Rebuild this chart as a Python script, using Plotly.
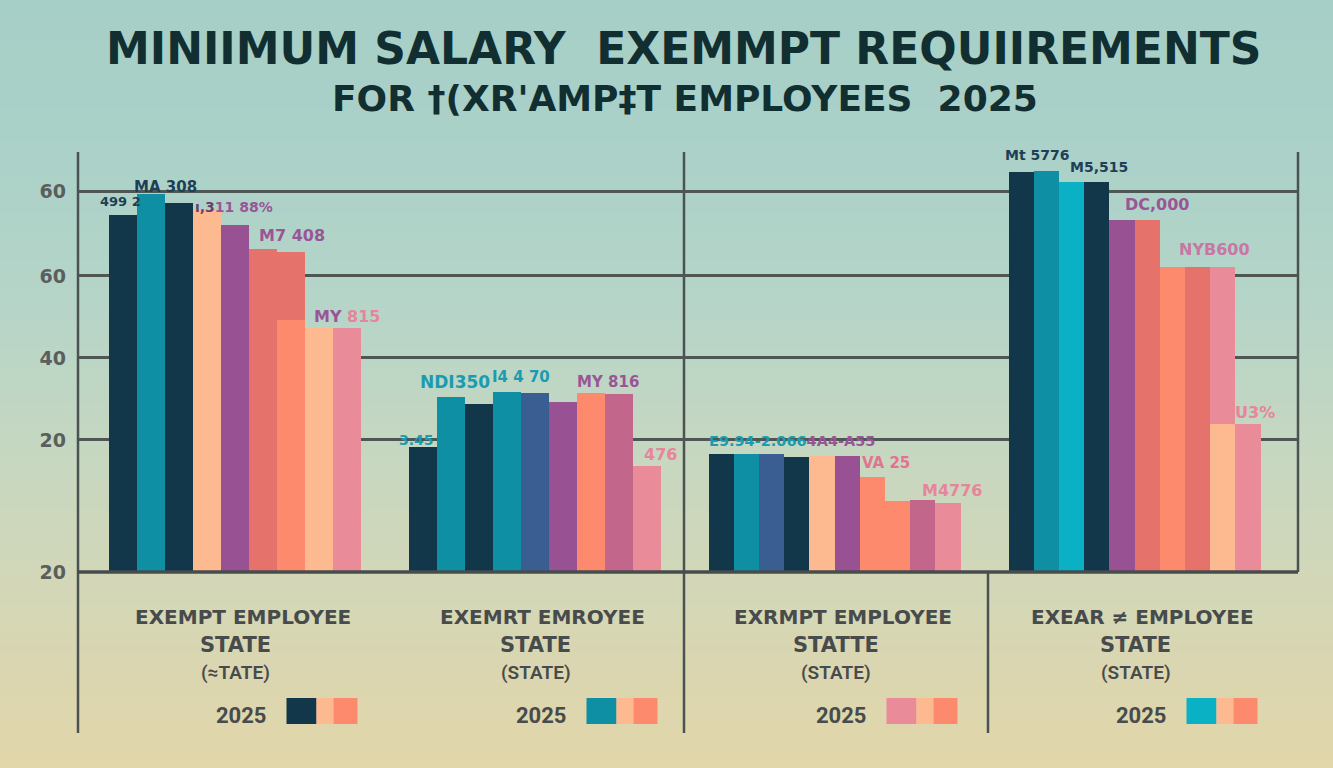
import base64
import struct
import zlib
import plotly.graph_objects as go

# ---------------- data ----------------
title_line1 = "MINIIMUM SALARY  EXEMMPT REQUIIREMENTS"
title_line2 = "FOR \u2020(XR'AMP\u2021T EMPLOYEES  2025"

y_tick_vals = [0, 32.2, 52.2, 72.2, 92.7]
y_tick_text = ["20", "20", "40", "60", "60"]

group1_values = [87.1, 92.2, 90.0, 88.3, 84.6, 78.8, 78.0, 59.5, 59.5]
group2_values = [30.5, 42.7, 41.0, 43.9, 43.7, 41.5, 43.7, 43.4, 25.9]
group3_values = [28.8, 28.8, 28.8, 28.0, 28.3, 28.3, 23.2, 17.3, 17.6, 16.8]
group4_values = [97.6, 97.8, 95.1, 95.1, 85.9, 85.9, 74.4, 74.4, 74.4, 36.1]

# lower overlapping segments drawn on top of some bars
group1_overlay = [None, None, None, None, None, None, 61.5, None, None]
group2_overlay = [None] * 9
group3_overlay = [None] * 10
group4_overlay = [None, None, None, None, None, None, None, None, 36.1, None]

label_line1 = ["EXEMPT EMPLOYEE", "EXEMRT EMROYEE", "EXRMPT EMPLOYEE", "EXEAR \u2260 EMPLOYEE"]
label_line2 = ["STATE", "STATE", "STATTE", "STATE"]
label_line3 = ["(\u2248TATE)", "(STATE)", "(STATE)", "(STATE)"]
label_year = ["2025", "2025", "2025", "2025"]

# ---------------- styles ----------------
NAVY = "#12374a"
TEAL = "#0f8fa3"
CYAN = "#0ab1c4"
STEEL = "#3a5e92"
PEACH = "#fdb990"
PURPLE = "#985293"
RED = "#e6736b"
ORANGE = "#fe8a6d"
MAUVE = "#c3668c"
PINK = "#e98b99"

group1_colors = [NAVY, TEAL, NAVY, PEACH, PURPLE, RED, RED, PEACH, PINK]
group2_colors = [NAVY, TEAL, NAVY, TEAL, STEEL, PURPLE, ORANGE, MAUVE, PINK]
group3_colors = [NAVY, TEAL, STEEL, NAVY, PEACH, PURPLE, ORANGE, ORANGE, MAUVE, PINK]
group4_colors = [NAVY, TEAL, CYAN, NAVY, PURPLE, RED, ORANGE, RED, PINK, PINK]
group1_overlay_colors = [None] * 6 + [ORANGE, None, None]
group4_overlay_colors = [None] * 8 + [PEACH, None]

swatch_colors = [[NAVY, PEACH, ORANGE], [TEAL, PEACH, ORANGE],
                 [PINK, PEACH, ORANGE], [CYAN, PEACH, ORANGE]]

NAVY_T = "#1e3f55"
TEAL_T = "#1b9bb0"
PURPLE_T = "#9a5597"
PINK_T = "#e6859b"
SALMON_T = "#e07590"
MAUVE_T = "#c777a3"

# (group, slot, html text, font size, x shift px, y shift px)
bar_labels = [
    (0, 0, f"<span style='color:{NAVY_T}'>499 2</span>", 13, -24.5, 13),
    (0, 1, f"<span style='color:{NAVY_T}'>MA 308</span>", 15, -18.5, 7),
    (0, 3, f"<span style='color:#6a3f6e'>\u0131,3</span><span style='color:{PURPLE_T}'>11 88%</span>", 14, -13.5, 3),
    (0, 5, f"<span style='color:{PURPLE_T}'>M7 408</span>", 16, -5.5, 13),
    (0, 7, f"<span style='color:{PURPLE_T}'>MY</span> <span style='color:{PINK_T}'>815</span>", 16, -6.5, 11),
    (1, 0, f"<span style='color:{TEAL_T}'>3.45</span>", 14, -25.5, 7),
    (1, 1, f"<span style='color:{TEAL_T}'>NDI350</span>", 17, -32.5, 15),
    (1, 3, f"<span style='color:{TEAL_T}'>I4 4 70</span>", 15, -16.5, 15),
    (1, 6, f"<span style='color:{PURPLE_T}'>MY 816</span>", 15, -15.5, 11),
    (1, 8, f"<span style='color:{PINK_T}'>476</span>", 16, -4.5, 11),
    (2, 0, f"<span style='color:{TEAL_T}'>E9.94-2.066</span><span style='color:{PURPLE_T}'>4A4-A55</span>", 14.5, -14, 13),
    (2, 6, f"<span style='color:{SALMON_T}'>VA 25</span>", 15, -12.3, 14),
    (2, 8, f"<span style='color:{PINK_T}'>M4776</span>", 16, -2.7, 9),
    (3, 0, f"<span style='color:{NAVY_T}'>Mt 5776</span>", 14, -18, 17),
    (3, 2, f"<span style='color:{NAVY_T}'>M5,515</span>", 14, -3.5, 15),
    (3, 4, f"<span style='color:{PURPLE_T}'>DC,000</span>", 16, 1, 15),
    (3, 6, f"<span style='color:{MAUVE_T}'>NYB600</span>", 16, 4.7, 17),
    (3, 9, f"<span style='color:{PINK_T}'>U3%</span>", 16, -15, 11),
]

# ---------------- geometry helpers (layout) ----------------
W, H = 1333, 768
PL, PR, PT, PB = 78, 1298, 152, 572          # plot area in pixels
PITCH_PX = 300.0
G0_PX = 234.5
X_RANGE = [(PL - G0_PX) / PITCH_PX, (PR - G0_PX) / PITCH_PX]
Y_RANGE = [0, 102.4]
GROUP_SPAN = 0.84


def px_to_paper_x(px):
    return (px - PL) / (PR - PL)


def py_to_paper_y(py):
    return (PB - py) / (PB - PT)


def data_x_to_paper(x):
    return (x - X_RANGE[0]) / (X_RANGE[1] - X_RANGE[0])


def slot(g, j, n):
    w = GROUP_SPAN / n
    return g + (j - (n - 1) / 2.0) * w, w


def gradient_png(stops, h):
    raw = b""
    for i in range(h):
        t = i / (h - 1)
        for k in range(len(stops) - 1):
            t0, c0 = stops[k]
            t1, c1 = stops[k + 1]
            if t0 <= t <= t1:
                f = (t - t0) / (t1 - t0) if t1 > t0 else 0
                c = [int(round(c0[m] + (c1[m] - c0[m]) * f)) for m in range(3)]
                break
        raw += b"\x00" + bytes(c)

    def chunk(tag, data):
        out = struct.pack(">I", len(data)) + tag + data
        return out + struct.pack(">I", zlib.crc32(tag + data) & 0xFFFFFFFF)

    png = (b"\x89PNG\r\n\x1a\n"
           + chunk(b"IHDR", struct.pack(">IIBBBBB", 1, h, 8, 2, 0, 0, 0))
           + chunk(b"IDAT", zlib.compress(raw))
           + chunk(b"IEND", b""))
    return "data:image/png;base64," + base64.b64encode(png).decode()


bg_stops = [
    (0.0, (166, 207, 199)),
    (0.2, (171, 209, 200)),
    (0.4, (182, 213, 200)),
    (0.6, (199, 215, 192)),
    (0.75, (210, 215, 184)),
    (0.9, (220, 214, 175)),
    (1.0, (226, 214, 170)),
]

# ---------------- figure ----------------
fig = go.Figure()

groups = [group1_values, group2_values, group3_values, group4_values]
colors = [group1_colors, group2_colors, group3_colors, group4_colors]
overlays = [group1_overlay, group2_overlay, group3_overlay, group4_overlay]
overlay_colors = [group1_overlay_colors, [None] * 9, [None] * 10, group4_overlay_colors]

for g, vals in enumerate(groups):
    n = len(vals)
    xs, ws = zip(*[slot(g, j, n) for j in range(n)])
    fig.add_trace(go.Bar(x=list(xs), y=vals, width=list(ws),
                         marker=dict(color=colors[g], line=dict(width=0)),
                         showlegend=False, hoverinfo="skip"))

for g, ov in enumerate(overlays):
    n = len(ov)
    xs, ys, ws, cs = [], [], [], []
    for j, v in enumerate(ov):
        if v is None:
            continue
        x, w = slot(g, j, n)
        xs.append(x); ys.append(v); ws.append(w); cs.append(overlay_colors[g][j])
    if xs:
        fig.add_trace(go.Bar(x=xs, y=ys, width=ws,
                             marker=dict(color=cs, line=dict(width=0)),
                             showlegend=False, hoverinfo="skip"))

annotations = []
LABEL_FONT = "DejaVu Sans"
for g, j, txt, size, dx, dy in bar_labels:
    n = len(groups[g])
    x, _ = slot(g, j, n)
    annotations.append(dict(x=x, y=groups[g][j], xref="x", yref="y", text=txt,
                            showarrow=False, xanchor="left", yanchor="middle",
                            xshift=dx, yshift=dy,
                            font=dict(family=LABEL_FONT, size=size, weight="bold")))

# titles
TITLE_COLOR = "#112e30"
annotations.append(dict(x=px_to_paper_x(683), y=py_to_paper_y(48.5), xref="paper", yref="paper",
                        text=title_line1, showarrow=False, xanchor="center", yanchor="middle",
                        font=dict(family="DejaVu Sans", size=44, color=TITLE_COLOR, weight="bold")))
annotations.append(dict(x=px_to_paper_x(685), y=py_to_paper_y(98.5), xref="paper", yref="paper",
                        text=title_line2, showarrow=False, xanchor="center", yanchor="middle",
                        font=dict(family="DejaVu Sans", size=36, color=TITLE_COLOR, weight="bold")))

# bottom category blocks
CAT_COLOR = "#474b4b"
for g in range(4):
    annotations.append(dict(x=g + 8 / PITCH_PX, y=py_to_paper_y(617), xref="x", yref="paper",
                            text=label_line1[g], showarrow=False, xanchor="center", yanchor="middle",
                            font=dict(family="DejaVu Sans", size=20, color=CAT_COLOR, weight="bold")))
    annotations.append(dict(x=g + 1 / PITCH_PX, y=py_to_paper_y(645), xref="x", yref="paper",
                            text=label_line2[g], showarrow=False, xanchor="center", yanchor="middle",
                            font=dict(family="DejaVu Sans", size=21, color=CAT_COLOR, weight="bold")))
    annotations.append(dict(x=g + 1 / PITCH_PX, y=py_to_paper_y(672), xref="x", yref="paper",
                            text=label_line3[g], showarrow=False, xanchor="center", yanchor="middle",
                            font=dict(family="Roboto", size=19, color=CAT_COLOR, weight=600)))
    annotations.append(dict(x=g + 7 / PITCH_PX, y=py_to_paper_y(715), xref="x", yref="paper",
                            text=label_year[g], showarrow=False, xanchor="center", yanchor="middle",
                            font=dict(family="Roboto", size=22, color=CAT_COLOR, weight="bold")))

shapes = []
# swatches next to the year
sw_edges = [52, 82, 99, 123]
for g in range(4):
    for k in range(3):
        shapes.append(dict(type="rect", xref="paper", yref="paper",
                           x0=data_x_to_paper(g + sw_edges[k] / PITCH_PX),
                           x1=data_x_to_paper(g + sw_edges[k + 1] / PITCH_PX),
                           y0=py_to_paper_y(724), y1=py_to_paper_y(698),
                           fillcolor=swatch_colors[g][k], line=dict(width=0), layer="above"))

LINE_C = "#4b5352"
bottom = py_to_paper_y(733)
shapes += [
    dict(type="line", xref="paper", yref="paper", x0=0, x1=0, y0=bottom, y1=1,
         line=dict(color=LINE_C, width=2.5)),
    dict(type="line", xref="paper", yref="paper", x0=px_to_paper_x(684), x1=px_to_paper_x(684),
         y0=bottom, y1=1, line=dict(color=LINE_C, width=2.5), layer="below"),
    dict(type="line", xref="paper", yref="paper", x0=px_to_paper_x(988), x1=px_to_paper_x(988),
         y0=bottom, y1=0, line=dict(color=LINE_C, width=2.5)),
    dict(type="line", xref="paper", yref="paper", x0=1, x1=1, y0=0, y1=1,
         line=dict(color=LINE_C, width=2.5)),
    dict(type="line", xref="paper", yref="paper", x0=0, x1=1, y0=0, y1=0,
         line=dict(color="#474d4c", width=3.5)),
]

fig.update_layout(
    width=W, height=H,
    margin=dict(l=PL, r=W - PR, t=PT, b=H - PB, pad=0),
    paper_bgcolor="rgb(200,214,190)",
    plot_bgcolor="rgba(0,0,0,0)",
    barmode="overlay",
    bargap=0,
    hovermode=False,
    showlegend=False,
    annotations=annotations,
    shapes=shapes,
    images=[dict(source=gradient_png(bg_stops, 384), xref="paper", yref="paper",
                 x=px_to_paper_x(0), y=py_to_paper_y(0),
                 sizex=W / (PR - PL), sizey=H / (PB - PT),
                 xanchor="left", yanchor="top", sizing="stretch", layer="below", opacity=1)],
    xaxis=dict(range=X_RANGE, showgrid=False, zeroline=False, showticklabels=False,
               showline=False, fixedrange=True),
    yaxis=dict(range=Y_RANGE, tickvals=y_tick_vals, ticktext=y_tick_text,
               showgrid=True, gridcolor="#4f5755", gridwidth=2.5, zeroline=False,
               showline=False, ticks="", ticklabelstandoff=11, fixedrange=True,
               tickfont=dict(family="DejaVu Sans", size=19, color="#5a5e5c", weight="bold")),
)

fig.write_html("out.html", config={"displayModeBar": False})
